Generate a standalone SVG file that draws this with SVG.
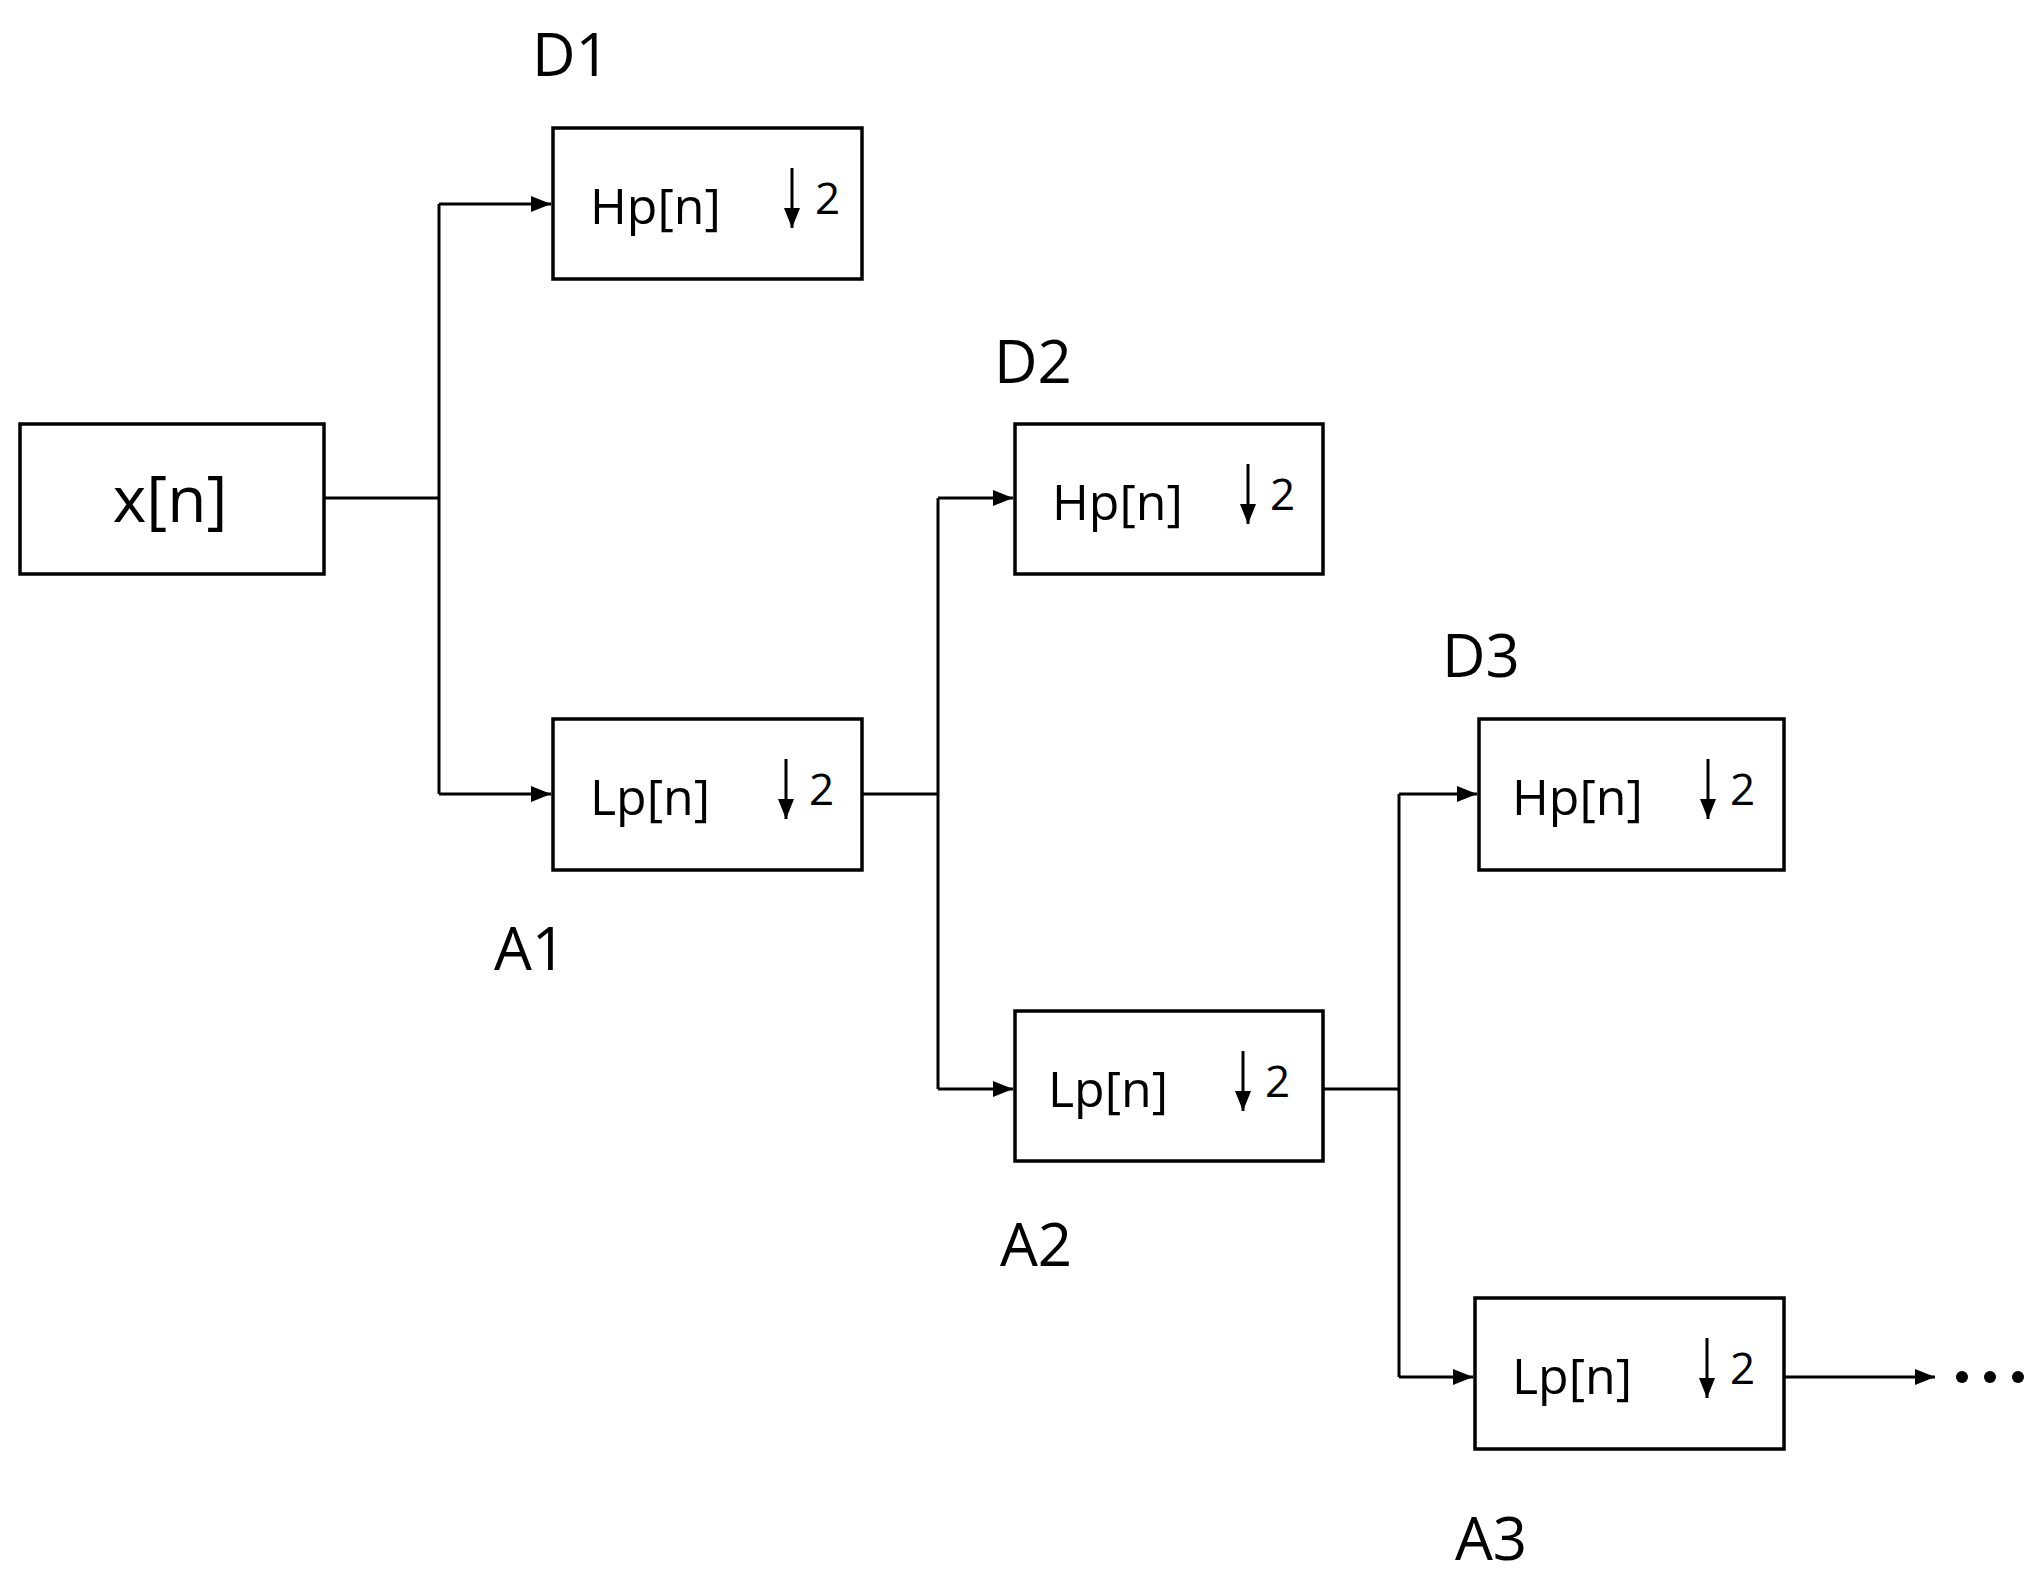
<svg xmlns="http://www.w3.org/2000/svg" width="2040" height="1580" viewBox="0 0 2040 1580">
<style>
rect{fill:#fff;stroke:#000;stroke-width:3.5}
.c{fill:none;stroke:#000;stroke-width:3}
.t{font-family:"Open Sans","DejaVu Sans",sans-serif;font-size:50px;fill:#000}
.l{font-family:"Open Sans","DejaVu Sans",sans-serif;font-size:60px;fill:#000;text-anchor:middle}
.s{font-family:"Open Sans","DejaVu Sans",sans-serif;font-size:44px;fill:#000}
</style>
<defs>
<marker id="a" markerWidth="8" markerHeight="8" refX="7" refY="4" orient="auto" markerUnits="userSpaceOnUse" viewBox="0 0 8 8"><path d="M0,0L8,4L0,8z"/></marker>
<marker id="ah" viewBox="0 0 10 10" refX="10" refY="5" markerWidth="20" markerHeight="20" orient="auto" markerUnits="userSpaceOnUse"><path d="M0,1L10,5L0,9z" fill="#000"/></marker>
<g id="dn"><line x1="0" y1="0" x2="0" y2="60" stroke="#000" stroke-width="3" marker-end="url(#ah)"/></g>
</defs>
<g id="xn"><rect x="20" y="424" width="304" height="150"/><text class="l" x="170" y="522" style="font-size:64px">x[n]</text></g>
<g id="hp1"><rect x="553" y="128" width="309" height="151"/><text class="t" x="590" y="224">Hp[n]</text><use href="#dn" x="792" y="168"/><text class="s" x="815" y="214">2</text></g>
<g id="lp1"><rect x="553" y="719" width="309" height="151"/><text class="t" x="590" y="815">Lp[n]</text><use href="#dn" x="786" y="759"/><text class="s" x="809" y="805">2</text></g>
<g id="hp2"><rect x="1015" y="424" width="308" height="150"/><text class="t" x="1052" y="520">Hp[n]</text><use href="#dn" x="1248" y="464"/><text class="s" x="1270" y="510">2</text></g>
<g id="lp2"><rect x="1015" y="1011" width="308" height="150"/><text class="t" x="1048" y="1107">Lp[n]</text><use href="#dn" x="1243" y="1051"/><text class="s" x="1265" y="1097">2</text></g>
<g id="hp3"><rect x="1479" y="719" width="305" height="151"/><text class="t" x="1512" y="815">Hp[n]</text><use href="#dn" x="1708" y="759"/><text class="s" x="1730" y="805">2</text></g>
<g id="lp3"><rect x="1475" y="1298" width="309" height="151"/><text class="t" x="1512" y="1394">Lp[n]</text><use href="#dn" x="1707" y="1338"/><text class="s" x="1730" y="1384">2</text></g>
<g id="labels">
<text class="l" x="571" y="76">D1</text>
<text class="l" x="1033" y="383">D2</text>
<text class="l" x="1481" y="677">D3</text>
<text class="l" x="530" y="970">A1</text>
<text class="l" x="1036" y="1266">A2</text>
<text class="l" x="1491" y="1560">A3</text>
</g>
<g id="connectors">
<path class="c" d="M324,498H439M439,204V794" />
<path class="c" d="M439,204H551" marker-end="url(#ah)"/>
<path class="c" d="M439,794H551" marker-end="url(#ah)"/>
<path class="c" d="M862,794H938M938,498V1089"/>
<path class="c" d="M938,498H1013" marker-end="url(#ah)"/>
<path class="c" d="M938,1089H1013" marker-end="url(#ah)"/>
<path class="c" d="M1323,1089H1399M1399,794V1377"/>
<path class="c" d="M1399,794H1477" marker-end="url(#ah)"/>
<path class="c" d="M1399,1377H1473" marker-end="url(#ah)"/>
<path class="c" d="M1784,1377H1935" marker-end="url(#ah)"/>
<circle cx="1962" cy="1377" r="6"/><circle cx="1990" cy="1377" r="6"/><circle cx="2018" cy="1377" r="6"/>
</g>
</svg>
